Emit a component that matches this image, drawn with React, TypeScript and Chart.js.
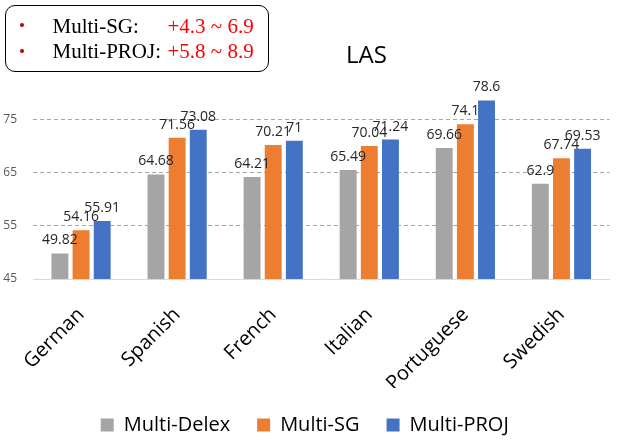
import React, { useEffect, useRef } from "react";
import { Chart, registerables } from "chart.js";

Chart.register(...registerables);

const categories = ["German", "Spanish", "French", "Italian", "Portuguese", "Swedish"];
const seriesNames = ["Multi-Delex", "Multi-SG", "Multi-PROJ"];
const multiDelex = [49.82, 64.68, 64.21, 65.49, 69.66, 62.9];
const multiSG = [54.16, 71.56, 70.21, 70.04, 74.1, 67.74];
const multiPROJ = [55.91, 73.08, 71, 71.24, 78.6, 69.53];
const yTicks = [45, 55, 65, 75];
const yMin = 45;
const yMax = 80;
const chartTitle = "LAS";
const noteLabels = ["Multi-SG:", "Multi-PROJ:"];
const noteRanges = ["+4.3 ~ 6.9", "+5.8 ~ 8.9"];

const colors = ["#A5A5A5", "#ED7D31", "#4472C4"];
const FONT = "'Open Sans', 'DejaVu Sans', sans-serif";

const titlePlugin = {
  id: "lasTitle",
  afterDraw(chart: any) {
    const ctx = chart.ctx;
    ctx.save();
    ctx.font = `24px ${FONT}`;
    ctx.fillStyle = "#000000";
    ctx.textAlign = "center";
    ctx.textBaseline = "alphabetic";
    ctx.fillText(chartTitle, 366.5, 63);
    ctx.restore();
  },
};

const valueLabelPlugin = {
  id: "valueLabels",
  afterDatasetsDraw(chart: any) {
    const ctx = chart.ctx;
    ctx.save();
    ctx.font = `14px ${FONT}`;
    ctx.fillStyle = "#262626";
    ctx.textAlign = "center";
    ctx.textBaseline = "alphabetic";
    chart.data.datasets.forEach((ds: any, di: number) => {
      const meta = chart.getDatasetMeta(di);
      meta.data.forEach((bar: any, i: number) => {
        ctx.fillText(String(ds.data[i]), bar.x, bar.y - 9);
      });
    });
    ctx.restore();
  },
};

export default function App() {
  const canvasRef = useRef<HTMLCanvasElement | null>(null);

  useEffect(() => {
    document.body.style.margin = "0";
    const canvas = canvasRef.current;
    if (!canvas) return;
    const chart = new Chart(canvas, {
      type: "bar",
      data: {
        labels: categories,
        datasets: [multiDelex, multiSG, multiPROJ].map((d, i) => ({
          label: seriesNames[i],
          data: d,
          backgroundColor: colors[i],
          borderWidth: 0,
          categoryPercentage: 0.66,
          barPercentage: 0.8,
        })),
      },
      options: {
        animation: false,
        responsive: true,
        maintainAspectRatio: false,
        layout: { padding: { top: 93, left: 0, right: 9.5, bottom: -4 } },
        plugins: {
          title: { display: false },
          tooltip: { enabled: false },
          legend: {
            position: "bottom",
            labels: {
              boxWidth: 13,
              boxHeight: 13,
              padding: 27,
              color: "#000000",
              font: { family: FONT, size: 20 },
            },
          },
        },
        scales: {
          x: {
            grid: { display: false },
            border: { display: true, color: "#D9D9D9", width: 1 },
            ticks: {
              autoSkip: false,
              maxRotation: 45,
              minRotation: 45,
              padding: 16,
              color: "#000000",
              font: { family: FONT, size: 20 },
            },
            afterFit: (scale: any) => {
              scale.height = 109;
            },
          },
          y: {
            min: yMin,
            max: yMax,
            afterBuildTicks: (scale: any) => {
              scale.ticks = yTicks.map((v) => ({ value: v }));
            },
            afterFit: (scale: any) => {
              scale.width = 33;
            },
            grid: {
              drawTicks: false,
              color: (ctx: any) => (ctx.tick && ctx.tick.value === yMin ? "rgba(0,0,0,0)" : "#A6A6A6"),
              lineWidth: 1,
            },
            border: { display: false, dash: [4, 3] },
            ticks: {
              padding: 16,
              color: "#595959",
              font: { family: FONT, size: 12 },
            },
          },
        },
      },
      plugins: [titlePlugin, valueLabelPlugin],
    });
    return () => chart.destroy();
  }, []);

  const serif = "'Liberation Serif', 'Times New Roman', serif";
  return (
    <div style={{ position: "relative", width: 619, height: 441, background: "#fff" }}>
      <canvas ref={canvasRef} />
      <div
        style={{
          position: "absolute",
          left: 5,
          top: 5,
          width: 264,
          height: 67,
          boxSizing: "border-box",
          border: "1px solid #000",
          borderRadius: 10,
          fontFamily: serif,
          fontSize: 21,
          lineHeight: "21px",
        }}
      >
        {noteLabels.map((lab, i) => (
          <React.Fragment key={lab}>
            <div
              style={{
                position: "absolute",
                left: 13.6,
                top: 16.6 + i * 26,
                width: 4.8,
                height: 4.8,
                borderRadius: "50%",
                background: "#C00000",
              }}
            />
            <span style={{ position: "absolute", left: 46.5, top: 9.5 + i * 25, color: "#000", whiteSpace: "nowrap" }}>
              {lab}
            </span>
            <span style={{ position: "absolute", left: 161.5, top: 9.5 + i * 25, color: "#FF0000", whiteSpace: "nowrap" }}>
              {noteRanges[i]}
            </span>
          </React.Fragment>
        ))}
      </div>
    </div>
  );
}
